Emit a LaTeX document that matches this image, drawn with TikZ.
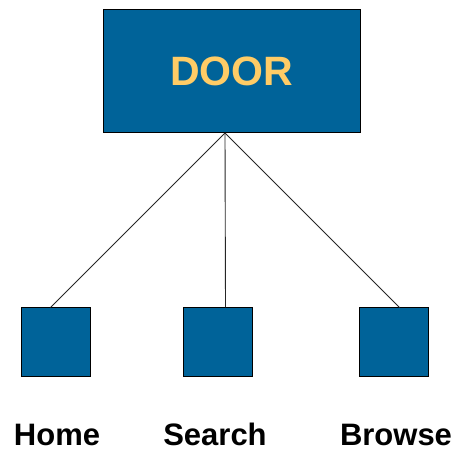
\documentclass[tikz,border=0pt]{standalone}
\usepackage{fontspec}
\setmainfont{Liberation Sans}
\usetikzlibrary{positioning}
\definecolor{doorblue}{RGB}{0,99,153}
\definecolor{dooryellow}{RGB}{255,204,102}
\begin{document}
\begin{tikzpicture}[
    x=1pt, y=-1pt,
    topbox/.style={
        draw=black,
        fill=doorblue,
        line width=1pt,
        minimum width=257pt,
        minimum height=123pt,
        text=dooryellow,
        font=\fontsize{41}{41}\selectfont\bfseries
    },
    pagebox/.style={
        draw=black,
        fill=doorblue,
        line width=1pt,
        minimum width=69pt,
        minimum height=69pt
    },
    pagelabel/.style={
        anchor=base,
        inner sep=0pt,
        font=\fontsize{31}{31}\selectfont\bfseries
    },
    link/.style={draw=black!85, line width=0.9pt}
]
\useasboundingbox (0,0) rectangle (458,454);

\node[topbox] (door) at (231.5,71.5) {DOOR};
\coordinate (hub) at (225,133);

\node[pagebox] (home) at (55.5,342.5) {};
\node[pagebox] (search) at (217.5,342.5) {};
\node[pagebox] (browse) at (393.5,342.5) {};

\node[pagelabel] (homelabel) at (57,445) {Home};
\node[pagelabel] (searchlabel) at (215,445) {Search};
\node[pagelabel] (browselabel) at (396,445) {Browse};

\draw[link] (hub) -- ([xshift=-5pt]home.north);
\draw[link] (hub) -- ([xshift=8pt]search.north);
\draw[link] (hub) -- ([xshift=6pt]browse.north);

\end{tikzpicture}
\end{document}
